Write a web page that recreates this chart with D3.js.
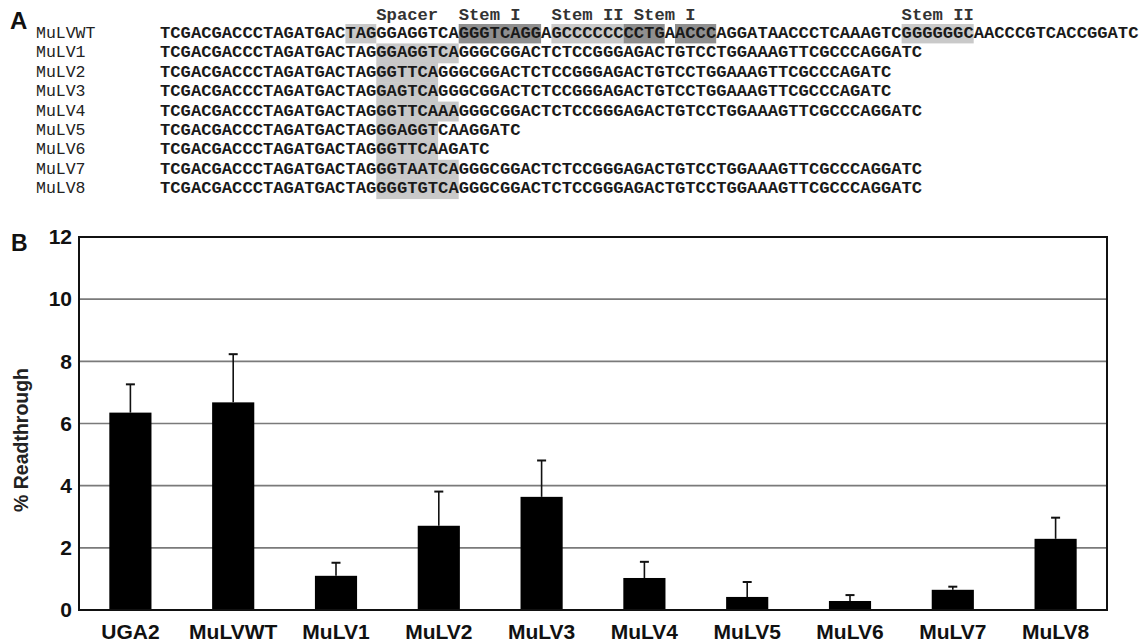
<!DOCTYPE html>
<html>
<head>
<meta charset="utf-8">
<script src="https://cdn.jsdelivr.net/npm/d3@7"></script>
<style>
  html, body { margin: 0; padding: 0; background: #fff; }
  svg { display: block; }
</style>
</head>
<body>
<svg id="chart" width="1143" height="643"></svg>
<script>
// ---------- Data: panel A (sequence alignment) ----------
const seqNames = ["MuLVWT", "MuLV1", "MuLV2", "MuLV3", "MuLV4", "MuLV5", "MuLV6", "MuLV7", "MuLV8"];
const sequences = [
  "TCGACGACCCTAGATGACTAGGGAGGTCAGGGTCAGGAGCCCCCCCCTGAACCCAGGATAACCCTCAAAGTCGGGGGGCAACCCGTCACCGGATC",
  "TCGACGACCCTAGATGACTAGGGAGGTCAGGGCGGACTCTCCGGGAGACTGTCCTGGAAAGTTCGCCCAGGATC",
  "TCGACGACCCTAGATGACTAGGGTTCAGGGCGGACTCTCCGGGAGACTGTCCTGGAAAGTTCGCCCAGATC",
  "TCGACGACCCTAGATGACTAGGAGTCAGGGCGGACTCTCCGGGAGACTGTCCTGGAAAGTTCGCCCAGATC",
  "TCGACGACCCTAGATGACTAGGGTTCAAAGGGCGGACTCTCCGGGAGACTGTCCTGGAAAGTTCGCCCAGGATC",
  "TCGACGACCCTAGATGACTAGGGAGGTCAAGGATC",
  "TCGACGACCCTAGATGACTAGGGTTCAAGATC",
  "TCGACGACCCTAGATGACTAGGGTAATCAGGGCGGACTCTCCGGGAGACTGTCCTGGAAAGTTCGCCCAGGATC",
  "TCGACGACCCTAGATGACTAGGGGTGTCAGGGCGGACTCTCCGGGAGACTGTCCTGGAAAGTTCGCCCAGGATC"
];
// region labels above the WT sequence: text and start character
const regionLabels = ["Spacer", "Stem I", "Stem II", "Stem I", "Stem II"];
const regionLabelStarts = [21, 29, 38, 46, 72];
// shaded stretches of the WT row: [start, end) character, shade
const wtShadeStarts = [18, 29, 38, 45, 50, 72];
const wtShadeEnds   = [21, 37, 45, 49, 54, 79];
const wtShadeTones  = ["light", "dark", "light", "dark", "dark", "light"];
// spacer shading of mutant rows: start and end character
const spacerStart = 21;
const spacerEnds = [29, 27, 27, 29, 27, 27, 29, 29];

// ---------- Data: panel B (bar chart) ----------
const categories = ["UGA2", "MuLVWT", "MuLV1", "MuLV2", "MuLV3", "MuLV4", "MuLV5", "MuLV6", "MuLV7", "MuLV8"];
const readthrough = [6.35, 6.68, 1.10, 2.71, 3.64, 1.03, 0.42, 0.29, 0.65, 2.29];
const errorUp     = [0.91, 1.55, 0.42, 1.10, 1.17, 0.52, 0.48, 0.19, 0.10, 0.68];
const yTicks = [0, 2, 4, 6, 8, 10, 12];

const svg = d3.select("#chart");
const sans = "'Liberation Sans', Arial, Helvetica, sans-serif";
const mono = "'Liberation Mono', 'Courier New', monospace";

// ================= Panel A =================
const charW = 10.3;
const seqX0 = 160;
const maxLen = d3.max(sequences, s => s.length);
const cx = d3.scaleLinear().domain([0, maxLen]).range([seqX0, seqX0 + maxLen * charW]);
const rowH = 19.4;
const rowTop = d3.scaleLinear().domain([0, 1]).range([24, 24 + rowH]);
const shadeColor = { light: "#c9c9c9", dark: "#8f8f8f" };

const gA = svg.append("g");

// WT shading
gA.selectAll("rect.wt")
  .data(wtShadeStarts.map((s, i) => ({ s, e: wtShadeEnds[i], t: wtShadeTones[i] })))
  .join("rect")
  .attr("x", d => cx(d.s))
  .attr("width", d => cx(d.e) - cx(d.s))
  .attr("y", rowTop(0))
  .attr("height", rowH)
  .attr("fill", d => shadeColor[d.t]);

// spacer shading of mutant rows
gA.selectAll("rect.sp")
  .data(spacerEnds.map((e, i) => ({ e, row: i + 1 })))
  .join("rect")
  .attr("x", cx(spacerStart))
  .attr("width", d => cx(d.e) - cx(spacerStart))
  .attr("y", d => rowTop(d.row))
  .attr("height", rowH + 0.5)
  .attr("fill", shadeColor.light);

// region labels
gA.selectAll("text.lab")
  .data(regionLabels.map((t, i) => ({ t, s: regionLabelStarts[i] })))
  .join("text")
  .attr("x", d => cx(d.s))
  .attr("y", 20)
  .attr("font-family", mono)
  .attr("font-size", "17.2px")
  .attr("font-weight", "bold")
  .attr("fill", "#333")
  .text(d => d.t);

// row names
gA.selectAll("text.name")
  .data(seqNames)
  .join("text")
  .attr("x", 36)
  .attr("y", (d, i) => rowTop(i) + 14)
  .attr("font-family", mono)
  .attr("font-size", "16.5px")
  .attr("fill", "#222")
  .text(d => d);

// sequences
gA.selectAll("text.seq")
  .data(sequences)
  .join("text")
  .attr("x", cx(0))
  .attr("y", (d, i) => rowTop(i) + 14)
  .attr("font-family", mono)
  .attr("font-size", "17.2px")
  .attr("font-weight", "bold")
  .attr("fill", "#1a1a1a")
  .attr("textLength", d => cx(d.length) - cx(0))
  .attr("lengthAdjust", "spacing")
  .text(d => d);

// panel letter A
svg.append("text")
  .attr("x", 10).attr("y", 29)
  .attr("font-family", sans).attr("font-size", "24px").attr("font-weight", "bold")
  .attr("fill", "#111")
  .text("A");

// ================= Panel B =================
const plotL = 79, plotR = 1107, plotT = 237, plotB = 610;
const x = d3.scaleBand().domain(categories).range([plotL, plotR]).paddingInner(0.59).paddingOuter(0.295);
const y = d3.scaleLinear().domain([0, 12]).range([plotB, plotT]);

const gB = svg.append("g");

// gridlines
gB.selectAll("line.grid")
  .data(yTicks.filter(t => t > 0 && t < 12))
  .join("line")
  .attr("x1", plotL).attr("x2", plotR)
  .attr("y1", d => y(d)).attr("y2", d => y(d))
  .attr("stroke", "#7a7a7a").attr("stroke-width", 1.6);

// error bars (upper only)
const eb = gB.selectAll("g.err")
  .data(categories.map((c, i) => ({ c, v: readthrough[i], e: errorUp[i] })))
  .join("g");
eb.append("line")
  .attr("x1", d => x(d.c) + x.bandwidth() / 2)
  .attr("x2", d => x(d.c) + x.bandwidth() / 2)
  .attr("y1", d => y(d.v)).attr("y2", d => y(d.v + d.e))
  .attr("stroke", "#111").attr("stroke-width", 1.6);
eb.append("line")
  .attr("x1", d => x(d.c) + x.bandwidth() / 2 - 4.5)
  .attr("x2", d => x(d.c) + x.bandwidth() / 2 + 4.5)
  .attr("y1", d => y(d.v + d.e)).attr("y2", d => y(d.v + d.e))
  .attr("stroke", "#111").attr("stroke-width", 2);

// bars
gB.selectAll("rect.bar")
  .data(categories.map((c, i) => ({ c, v: readthrough[i] })))
  .join("rect")
  .attr("x", d => x(d.c))
  .attr("width", x.bandwidth())
  .attr("y", d => y(d.v))
  .attr("height", d => y(0) - y(d.v))
  .attr("fill", "#000");

// frame
gB.append("rect")
  .attr("x", plotL).attr("y", plotT)
  .attr("width", plotR - plotL).attr("height", plotB - plotT)
  .attr("fill", "none").attr("stroke", "#111").attr("stroke-width", 2);

// y axis tick labels
const yAxis = d3.axisLeft(y).tickValues(yTicks).tickSize(0).tickPadding(7).tickFormat(d3.format("d"));
const ya = gB.append("g").attr("transform", `translate(${plotL},0)`).call(yAxis);
ya.select(".domain").remove();
ya.selectAll("text")
  .attr("font-family", sans).attr("font-size", "21px").attr("font-weight", "bold")
  .attr("fill", "#111");

// x axis labels
const xAxis = d3.axisBottom(x).tickSize(0).tickPadding(14);
const xa = gB.append("g").attr("transform", `translate(0,${plotB})`).call(xAxis);
xa.select(".domain").remove();
xa.selectAll("text")
  .attr("font-family", sans).attr("font-size", "21px").attr("font-weight", "bold")
  .attr("fill", "#111");

// y axis title
svg.append("text")
  .attr("transform", "translate(28,440) rotate(-90)")
  .attr("text-anchor", "middle")
  .attr("font-family", sans).attr("font-size", "19.5px").attr("font-weight", "bold")
  .attr("fill", "#222")
  .text("% Readthrough");

// panel letter B
svg.append("text")
  .attr("x", 11).attr("y", 251)
  .attr("font-family", sans).attr("font-size", "23px").attr("font-weight", "bold")
  .attr("fill", "#111")
  .text("B");
</script>
</body>
</html>
